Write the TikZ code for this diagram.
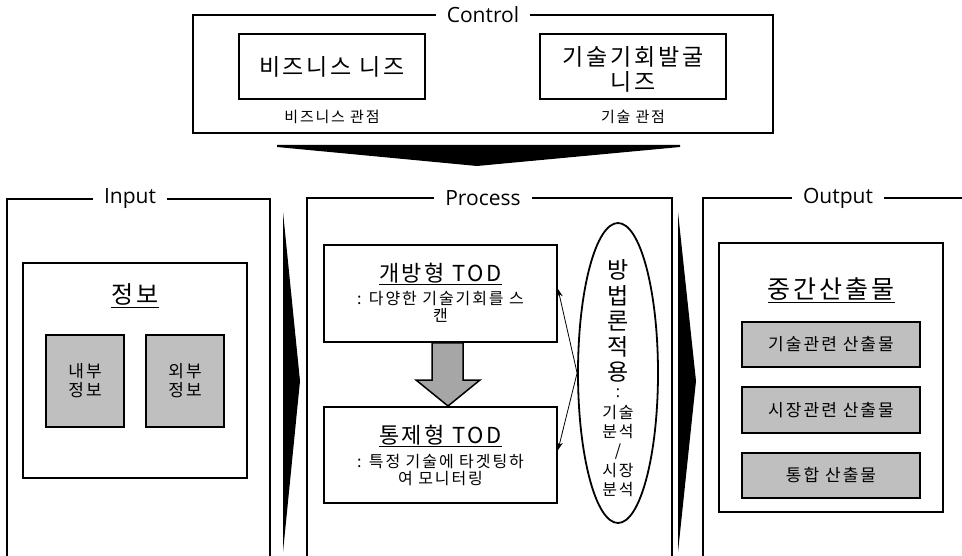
\documentclass[tikz,border=0pt]{standalone}
\usepackage{fontspec}
\setmainfont{Noto Sans CJK KR}[LetterSpace=12]
\newfontfamily\labelfont{Open Sans}
\usetikzlibrary{arrows.meta,shapes.geometric}
\definecolor{boxgray}{HTML}{BFBFBF}
\definecolor{arrgray}{HTML}{A6A6A6}
\begin{document}
\begin{tikzpicture}[x=1pt,y=-1pt,
  framebox/.style={draw,line width=1.6pt,inner sep=0pt},
  frameline/.style={line width=1.6pt},
  flabel/.style={fill=white,inner xsep=11pt,inner ysep=1pt,font=\labelfont\fontsize{21}{23}\selectfont},
  box/.style={draw,line width=2pt,inner sep=0pt,fill=white},
  graybox/.style={box,fill=boxgray},
  txt/.style={inner sep=0pt,align=center},
  bigtxt/.style={txt,font=\fontsize{23}{25}\selectfont},
  titletxt/.style={txt,font=\fontsize{22}{25}\selectfont},
  smalltxt/.style={txt,font=\fontsize{15}{17}\selectfont},
  midtxt/.style={txt,font=\fontsize{17}{19}\selectfont},
  blackarrow/.style={fill=black,draw=none},
  thinarrow/.style={line width=0.8pt,-{Stealth[length=8pt,width=6pt]}}
]
\useasboundingbox (0,0) rectangle (962,556);

% ---------- Control ----------
\node[framebox,minimum width=580pt,minimum height=118pt] (control) at (483,74) {};
\node[flabel] (controllbl) at (control.north) {Control};
\node[box,minimum width=186pt,minimum height=65pt] (biz) at (332,66.5) {};
\node[bigtxt] (biztxt) at (biz.center) {비즈니스 니즈};
\node[box,minimum width=186pt,minimum height=65pt] (tech) at (633,66.5) {};
\node[bigtxt] (techtxt) at (633,69.5) {기술기회발굴\\니즈};
\node[smalltxt] (bizview) at (332,117) {비즈니스 관점};
\node[smalltxt] (techview) at (633,117) {기술 관점};

% big down arrow
\fill[blackarrow] (277,145) -- (680,145) -- (680,147) -- (477,166) -- (277,147) -- cycle;

% ---------- Input ----------
\draw[frameline] (7,570) -- (7,199) -- (270,199) -- (270,570);
\node[flabel] (inlbl) at (130,199) {Input};
\node[box,minimum width=224pt,minimum height=215pt] (info) at (135,370.5) {};
\node[txt,font=\fontsize{24}{26}\selectfont] (infotitle) at (135,296) {\underline{정보}};
\node[graybox,minimum width=78pt,minimum height=92pt] (intinfo) at (85,381) {};
\node[midtxt] (intinfotxt) at (intinfo.center) {내부\\정보};
\node[graybox,minimum width=78pt,minimum height=92pt] (extinfo) at (185,381) {};
\node[midtxt] (extinfotxt) at (extinfo.center) {외부\\정보};

% arrow input -> process
\fill[blackarrow] (283,212) -- (300,381) -- (283,552) -- cycle;

% ---------- Process ----------
\draw[frameline] (307,570) -- (307,198) -- (672,198) -- (672,570);
\node[flabel] (proclbl) at (483,198) {Process};
\node[box,minimum width=233pt,minimum height=97pt] (opentod) at (440.5,293.5) {};
\node[titletxt] (opentitle) at (440.5,274) {\underline{개방형 TOD}};
\node[txt,font=\fontsize{16}{17}\selectfont] (opensub) at (440.5,306.5) {: 다양한 기술기회를 스\\캔};
\node[box,minimum width=233pt,minimum height=96pt] (ctrltod) at (440.5,455) {};
\node[titletxt] (ctrltitle) at (440.5,436) {\underline{통제형 TOD}};
\node[txt,font=\fontsize{16}{16.5}\selectfont] (ctrlsub) at (440.5,470) {: 특정 기술에 타겟팅하\\여 모니터링};
% gray arrow
\filldraw[fill=arrgray,draw=black,line width=1.5pt,line join=miter]
  (432,343) -- (463,343) -- (463,380) -- (480,380) -- (448,406) -- (416,380) -- (432,380) -- cycle;

% methodology ellipse
\node[ellipse,draw,line width=1.8pt,minimum width=80pt,minimum height=300pt,inner sep=0pt] (meth) at (618,373) {};
\node[txt,font=\fontsize{23}{25.5}\selectfont] (methbig) at (618,321) {방\\법\\론\\적\\용};
\node[inner sep=0pt,font=\labelfont\fontsize{16}{18}\selectfont] (methcolon) at (618,393) {\makebox[0pt][c]{:}};
\node[txt,font=\fontsize{16}{19.4}\selectfont] (methsmall) at (618,451) {기술\\분석\\/\\시장\\분석};
\draw[thinarrow] (meth.west) -- ([yshift=4.5pt]opentod.east);
\draw[thinarrow] (meth.west) -- ([yshift=5pt]ctrltod.east);

% arrow process -> output
\fill[blackarrow] (678,212) -- (696,381) -- (678,552) -- cycle;

% ---------- Output ----------
\draw[frameline] (703,570) -- (703,198) -- (975,198);
\node[flabel] (outlbl) at (838,198) {Output};
\node[box,minimum width=224pt,minimum height=269pt] (mid) at (831,377.5) {};
\node[txt,font=\fontsize{25}{27}\selectfont] (midtitle) at (831,290) {\underline{중간산출물}};
\node[graybox,minimum width=178pt,minimum height=45pt] (o1) at (831,344.5) {};
\node[midtxt] (o1txt) at (o1.center) {기술관련 산출물};
\node[graybox,minimum width=178pt,minimum height=46pt] (o2) at (831,410) {};
\node[midtxt] (o2txt) at (o2.center) {시장관련 산출물};
\node[graybox,minimum width=178pt,minimum height=45pt] (o3) at (831,475.5) {};
\node[midtxt] (o3txt) at (o3.center) {통합 산출물};
\end{tikzpicture}
\end{document}
